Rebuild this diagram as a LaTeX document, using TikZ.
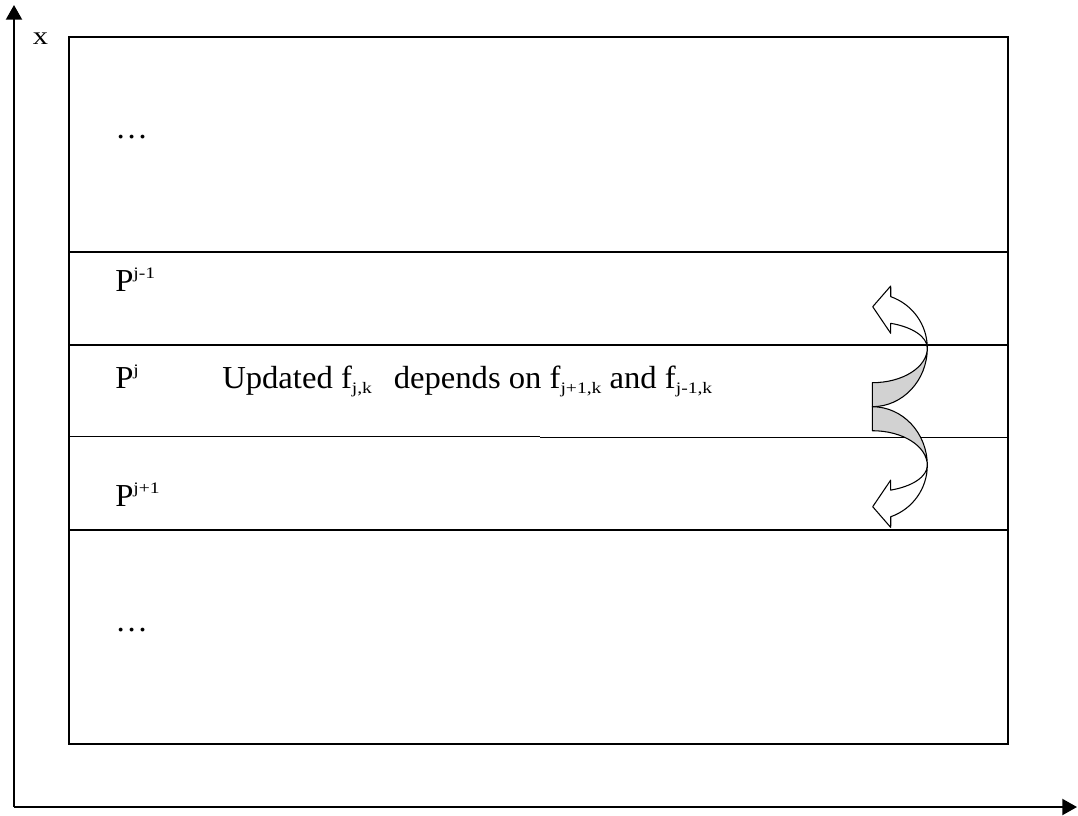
\documentclass[tikz,border=0pt]{standalone}
\usepackage{fontspec}
\setmainfont{Liberation Serif}
\usetikzlibrary{arrows.meta}
% raised and lowered small indices, set the way a word processor does
\newcommand\idx[1]{\scalebox{1.2}[1]{\fontsize{12pt}{12pt}\selectfont #1}}
\newcommand\hi[1]{\raisebox{9.6pt}{\idx{#1}}}
\newcommand\lo[1]{\raisebox{-4pt}{\idx{#1}}}
\newcommand\wide[1]{\scalebox{1.02}[1]{#1}}
\begin{document}
\begin{tikzpicture}[x=0.75pt,y=-0.75pt,
  axis/.style={line width=1.5pt,-{Triangle[length=11pt,width=12pt]}},
  band/.style={line width=1.1pt},
  lbl/.style={inner sep=0pt,anchor=base west,font=\fontsize{24pt}{24pt}\selectfont},
  curvearrow/.style={draw=black,line width=0.8pt,line join=round}]

\useasboundingbox (0,0) rectangle (1078,815);
\fill[white] (0,0) rectangle (1078,815);

% axes
\coordinate (origin) at (14,807);
\coordinate (yend) at (14,5);
\coordinate (xend) at (1077,807);
\draw[axis] (origin) -- (yend);
\draw[axis] (origin) -- (xend);
\node[lbl,font=\fontsize{19pt}{19pt}\selectfont] (xlab) at (32.5,44) {\scalebox{1.2}[1]{x}};

% the strip of processes
\draw[band] (69,37) rectangle (1008,744);
\draw[band] (69,252) -- (1008,252);
\draw[band] (69,345) -- (1008,345);
\draw[band] (69,436.5) -- (540,436.5);
\draw[band] (540,437.5) -- (1008,437.5);
\draw[band] (69,530) -- (1008,530);

% labels
\node[lbl] (dotsTop) at (115,138.5) {\wide{…}};
\node[lbl] (pprev) at (115,291) {\wide{P\hi{j-1}}};
\node[lbl] (pcur) at (115,388) {\wide{P\hi{j}}};
\node[lbl] (upd) at (222,388) {\wide{Updated f\lo{j,k}\hspace{16pt}depends on f\lo{j+1,k} and f\lo{j-1,k}}};
\node[lbl] (pnext) at (115,506) {\wide{P\hi{j+1}}};
\node[lbl] (dotsBot) at (115,631.5) {\wide{…}};

% curved arrows to the neighbouring strips
\begin{scope}[shift={(872.3,406.7)}]
  \filldraw[curvearrow,fill=gray!35] (0,-24) -- (0,0) .. controls (30.4,0) and (55,-26.3) .. (55,-58.7)
     .. controls (55,-39.5) and (30.4,-24) .. (0,-24) -- cycle;
  \filldraw[curvearrow,fill=white] (55,-58.7) arc[start angle=0,end angle=-70.4,x radius=55,y radius=54.5]
     -- (18.4,-120.7) -- (0.4,-100) -- (18.4,-73.4) -- (18.4,-83.4)
     arc[start angle=-70.4,end angle=0,x radius=55,y radius=26.2] -- cycle;
\end{scope}
\begin{scope}[shift={(872.3,406.7)},yscale=-1]
  \filldraw[curvearrow,fill=gray!35] (0,-24) -- (0,0) .. controls (30.4,0) and (55,-26.3) .. (55,-58.7)
     .. controls (55,-39.5) and (30.4,-24) .. (0,-24) -- cycle;
  \filldraw[curvearrow,fill=white] (55,-58.7) arc[start angle=0,end angle=-70.4,x radius=55,y radius=54.5]
     -- (18.4,-120.7) -- (0.4,-100) -- (18.4,-73.4) -- (18.4,-83.4)
     arc[start angle=-70.4,end angle=0,x radius=55,y radius=26.2] -- cycle;
\end{scope}
\end{tikzpicture}
\end{document}
